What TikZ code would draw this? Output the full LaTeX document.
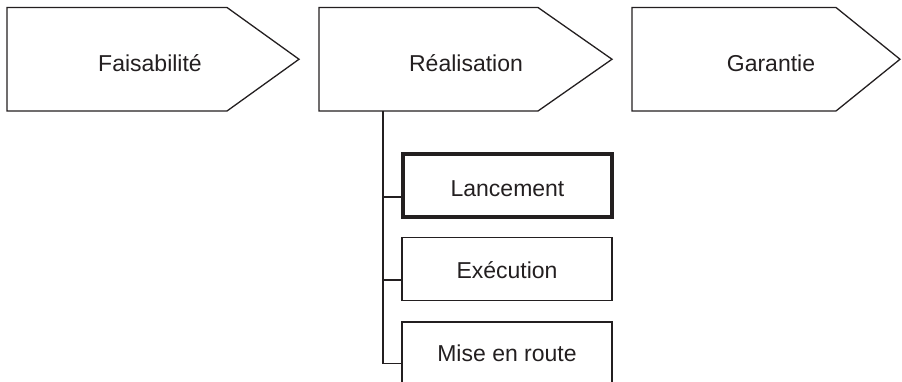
\documentclass[tikz,border=0pt]{standalone}
\usepackage{fontspec}
\setmainfont{Liberation Sans}
\definecolor{ink}{HTML}{231F20}
\begin{document}
\begin{tikzpicture}[x=1pt,y=-1pt,
  every node/.style={text=ink,font=\fontsize{23}{27}\selectfont},
  phase/.style={draw=ink,line width=1.3pt,line join=miter},
  label/.style={inner sep=0pt,anchor=base},
  taskbox/.style={draw=ink,line width=1.3pt,minimum width=210pt,minimum height=63pt,
    inner sep=0pt,text depth=0pt},
  current/.style={taskbox,line width=4pt,minimum width=209pt},
  link/.style={draw=ink,line width=1.3pt}]
\useasboundingbox (0,0) rectangle (902,382);
\clip (0,0) rectangle (902,382);

% project phases drawn as arrow-shaped tabs
\draw[phase] (7,7.5) -- (227,7.5) -- (299,59.25) -- (227,111) -- (7,111) -- cycle;
\draw[phase] (319,7.5) -- (538,7.5) -- (612,59.25) -- (538,111) -- (319,111) -- cycle;
\draw[phase] (632,7.5) -- (836,7.5) -- (900,59.25) -- (836,111) -- (632,111) -- cycle;
\node[label] (faisa) at (150,71.7) {Faisabilité};
\node[label] (real) at (466,71.7) {Réalisation};
\node[label] (garan) at (771,71.7) {Garantie};

% sub-steps of the realisation phase
\node[current,text height=22.4pt] (lanc) at (507.5,185.5) {Lancement};
\node[taskbox,text height=18.6pt] (exec) at (507,269) {Exécution};
\node[taskbox,text height=16.4pt] (mise) at (507,353.5) {Mise en route};

% tree connector
\coordinate (trunk) at (383,111);
\draw[link] (trunk) |- ([yshift=-10pt]mise.west);
\draw[link] ([yshift=-11.5pt]lanc.west) -- ([yshift=-11.5pt]lanc.west -| trunk);
\draw[link] ([yshift=-11pt]exec.west) -- ([yshift=-11pt]exec.west -| trunk);
\end{tikzpicture}
\end{document}
